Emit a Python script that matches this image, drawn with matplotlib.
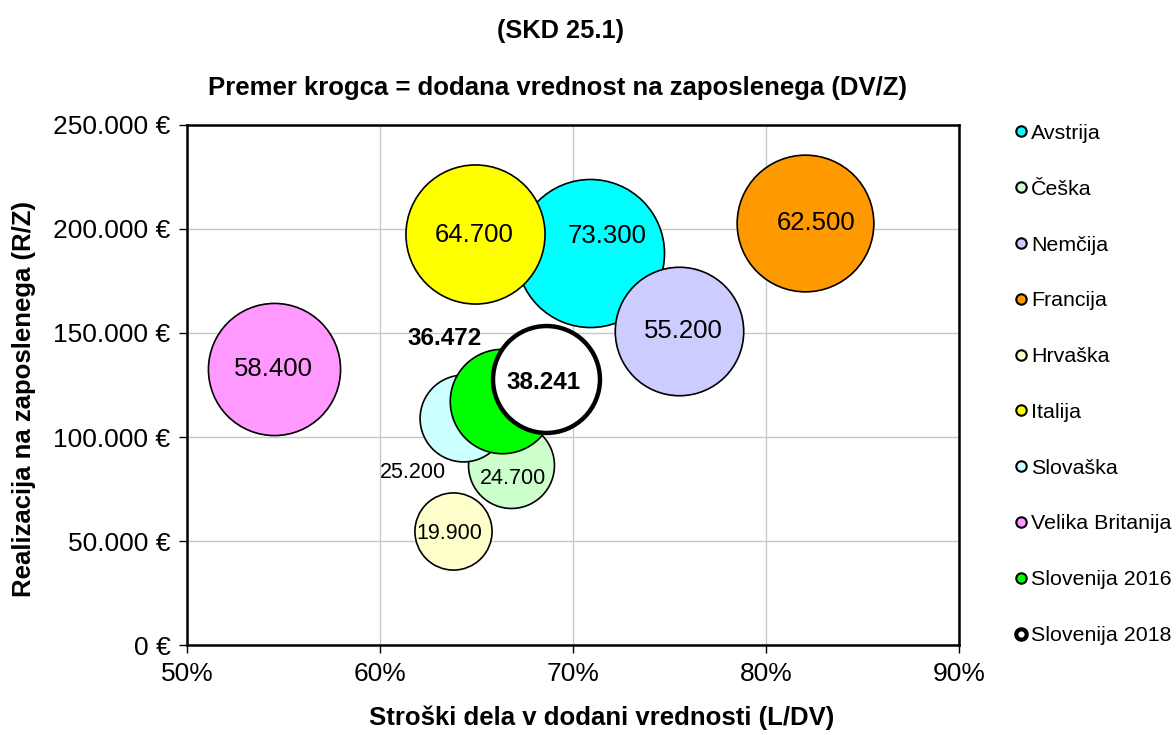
import matplotlib
matplotlib.use("Agg")
import matplotlib.pyplot as plt
from matplotlib.lines import Line2D
from matplotlib.ticker import FuncFormatter

plt.rcParams['font.family'] = ['Liberation Sans', 'DejaVu Sans']

# data
countries = ["Avstrija", "Češka", "Nemčija", "Francija", "Hrvaška", "Italija",
             "Slovaška", "Velika Britanija", "Slovenija 2016", "Slovenija 2018"]
labor_share = [70.9, 66.8, 75.5, 82.0, 63.8, 64.9, 64.3, 54.5, 66.3, 68.6]   # L/DV, %
revenue_per_emp = [188500, 86500, 151000, 202900, 55000, 197600, 109100, 132600, 117300, 127700]  # R/Z
va_per_emp = [73300, 24700, 55200, 62500, 19900, 64700, 25200, 58400, 36472, 38241]  # DV/Z
value_labels = ["73.300", "24.700", "55.200", "62.500", "19.900", "64.700",
                "25.200", "58.400", "36.472", "38.241"]
colors = ["#00FFFF", "#CCFFCC", "#CCCCFF", "#FF9900", "#FFFFCC", "#FFFF00",
          "#CCFFFF", "#FF99FF", "#00FF00", "#FFFFFF"]

# label placement (offset in points from bubble centre) and style
label_offsets = [(12, 12), (1, -10), (3, 0), (8, 0), (-3, -2), (0, -1),
                 (-36, -39), (0, 0), (-41, 45), (-2, -2)]
label_sizes = [18.5, 15.5, 18.5, 18.5, 15.5, 18.5, 15.5, 18.5, 17.5, 17.5]
label_bold = [False] * 8 + [True, True]
edge_widths = [1.2] * 9 + [3.2]

fig = plt.figure(figsize=(11.76, 7.35), dpi=100)
ax = fig.add_axes([0.159, 0.1224, 0.6565, 0.7076])

for i in range(len(countries)):
    ax.scatter(labor_share[i], revenue_per_emp[i], s=va_per_emp[i] / 1000 * 155,
               color=colors[i], edgecolors="black", linewidths=edge_widths[i],
               zorder=3 + i)
    ax.annotate(value_labels[i], (labor_share[i], revenue_per_emp[i]),
                xytext=label_offsets[i], textcoords="offset points",
                ha="center", va="center", fontsize=label_sizes[i],
                fontweight="bold" if label_bold[i] else "normal", zorder=20)

ax.set_xlim(50, 90)
ax.set_ylim(0, 250000)
ax.set_xticks([50, 60, 70, 80, 90])
ax.set_yticks([0, 50000, 100000, 150000, 200000, 250000])
ax.xaxis.set_major_formatter(FuncFormatter(lambda v, p: f"{v:.0f}%"))
ax.yaxis.set_major_formatter(FuncFormatter(lambda v, p: f"{v:,.0f} €".replace(",", ".")))
ax.tick_params(labelsize=19, direction="out", length=6, width=1, pad=6)
ax.grid(True, color="#C8C8C8", linewidth=1)
ax.set_axisbelow(True)
for sp in ax.spines.values():
    sp.set_linewidth(1.8)

ax.set_xlabel("Stroški dela v dodani vrednosti (L/DV)", fontsize=18.5, fontweight="bold")
ax.set_ylabel("Realizacija na zaposlenega (R/Z)", fontsize=18.5, fontweight="bold")
ax.xaxis.set_label_coords(0.5376, -0.117)
ax.yaxis.set_label_coords(-0.196, 0.473)

fig.text(0.477, 0.958, "(SKD 25.1)", ha="center", va="center", fontsize=18.3, fontweight="bold")
fig.text(0.474, 0.880, "Premer krogca = dodana vrednost na zaposlenega (DV/Z)",
         ha="center", va="center", fontsize=18.5, fontweight="bold")

# legend
handles = [Line2D([0], [0], marker="o", linestyle="none", markersize=7.5,
                  markerfacecolor=colors[i], markeredgecolor="black",
                  markeredgewidth=1.5 if i < 9 else 3) for i in range(len(countries))]
leg = fig.legend(handles, countries, loc="upper left", bbox_to_anchor=(0.854, 0.843),
                 frameon=False, fontsize=15.4, labelspacing=1.72, handletextpad=0.05,
                 handlelength=0.8, borderaxespad=0)

fig.savefig("out.png", dpi=100)
